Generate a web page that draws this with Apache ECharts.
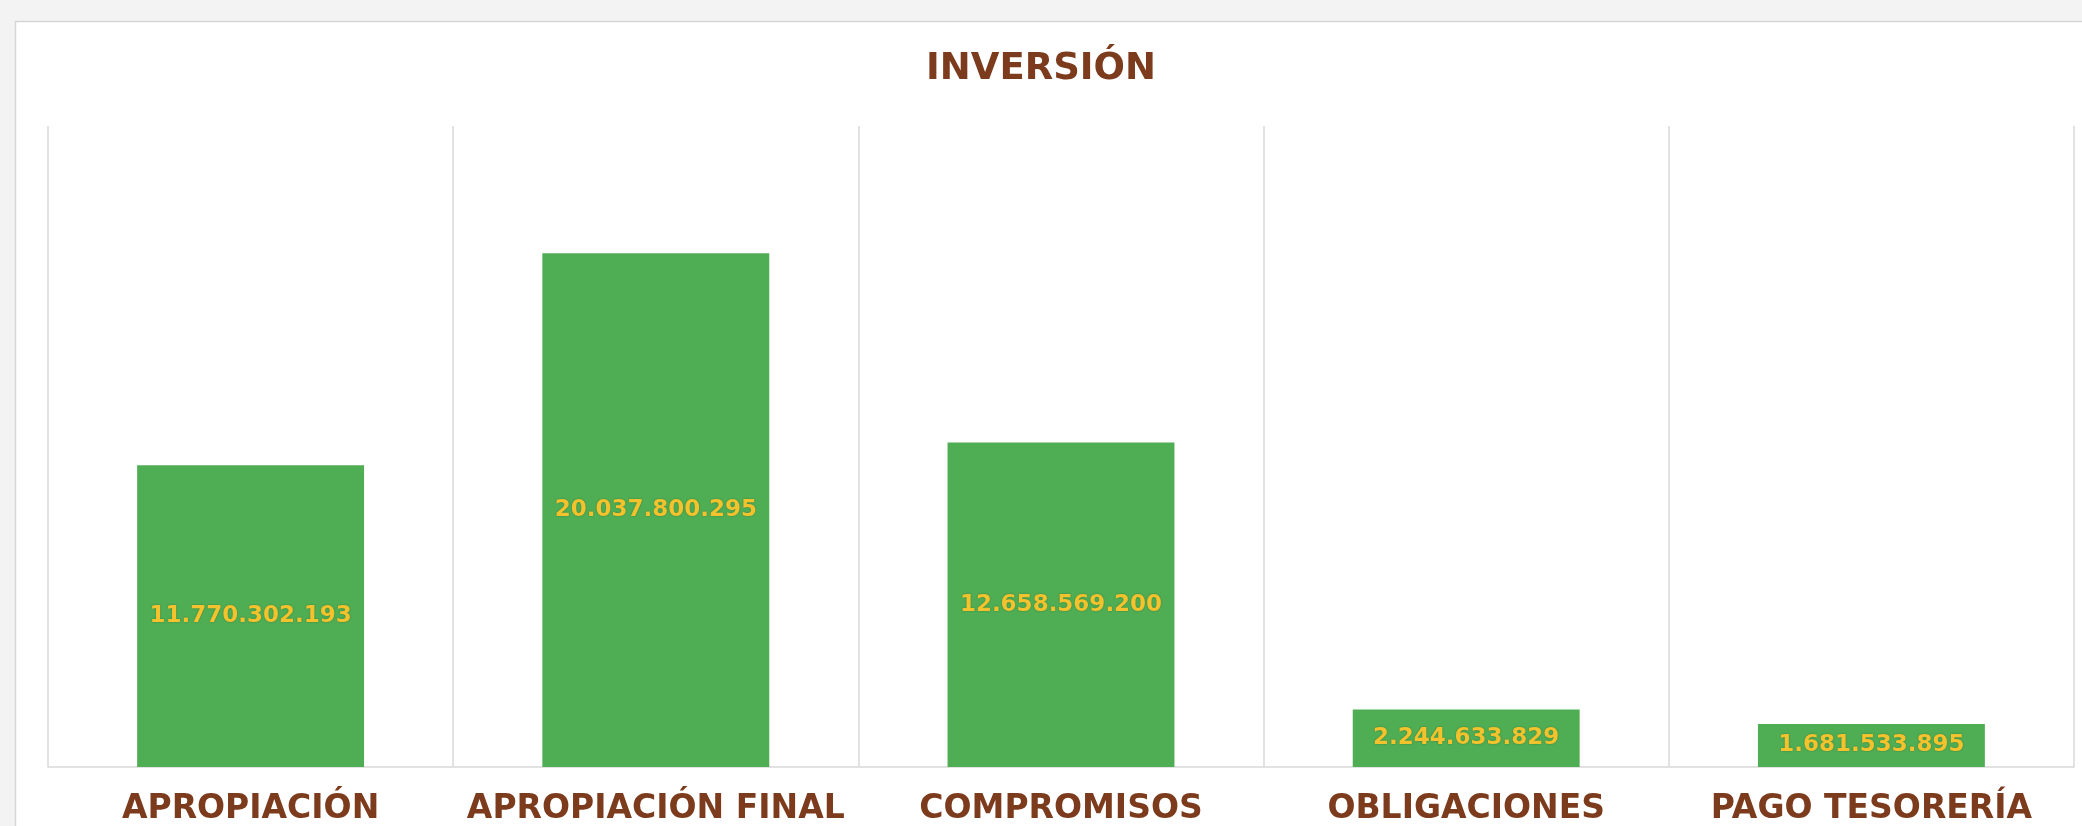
<!DOCTYPE html>
<html>
<head>
<meta charset="utf-8">
<script src="https://cdn.jsdelivr.net/npm/echarts@6/dist/echarts.min.js"></script>
<style>
html,body{margin:0;padding:0;background:#f3f3f3;}
#chart{width:2082px;height:826px;}
</style>
</head>
<body>
<div id="chart"></div>
<script>
const categories = ['APROPIACIÓN', 'APROPIACIÓN FINAL', 'COMPROMISOS', 'OBLIGACIONES', 'PAGO TESORERÍA'];
const values = [11770302193, 20037800295, 12658569200, 2244633829, 1681533895];
const title = 'INVERSIÓN';

function fmt(v) {
  return String(v).replace(/\B(?=(\d{3})+(?!\d))/g, '.');
}

const chart = echarts.init(document.getElementById('chart'));
chart.setOption({
  backgroundColor: '#f3f3f3',
  animation: false,
  graphic: [{
    type: 'rect',
    z: -10,
    shape: { x: 15.5, y: 21.5, width: 2100, height: 900 },
    style: { fill: '#ffffff', stroke: '#d6d6d6', lineWidth: 1.5 }
  }],
  title: {
    text: title,
    left: 'center',
    top: 46,
    textStyle: {
      fontFamily: 'DejaVu Sans',
      fontWeight: 'bold',
      fontSize: 37,
      color: '#7c3b1c'
    }
  },
  grid: { left: 48, right: 8, top: 126, bottom: 58 },
  xAxis: {
    type: 'category',
    data: categories,
    boundaryGap: true,
    axisLine: { show: true, lineStyle: { color: '#d9d9d9', width: 1.5 } },
    axisTick: { show: false },
    splitLine: { show: true, lineStyle: { color: '#d9d9d9', width: 1.5 } },
    axisLabel: {
      margin: 26,
      interval: 0,
      fontFamily: 'DejaVu Sans',
      fontWeight: 'bold',
      fontSize: 33,
      color: '#7c3b1c'
    }
  },
  yAxis: {
    type: 'value',
    min: 0,
    max: 25000000000,
    show: false,
    splitLine: { show: false }
  },
  series: [{
    type: 'bar',
    data: values,
    barWidth: '56%',
    itemStyle: { color: '#4fae54' },
    label: {
      show: true,
      position: 'inside',
      formatter: p => fmt(p.value),
      fontFamily: 'DejaVu Sans',
      fontWeight: 'bold',
      fontSize: 23,
      color: '#f3c22c',
      textShadowColor: 'rgba(0,0,0,0.3)',
      textShadowBlur: 2
    }
  }]
});
</script>
</body>
</html>
